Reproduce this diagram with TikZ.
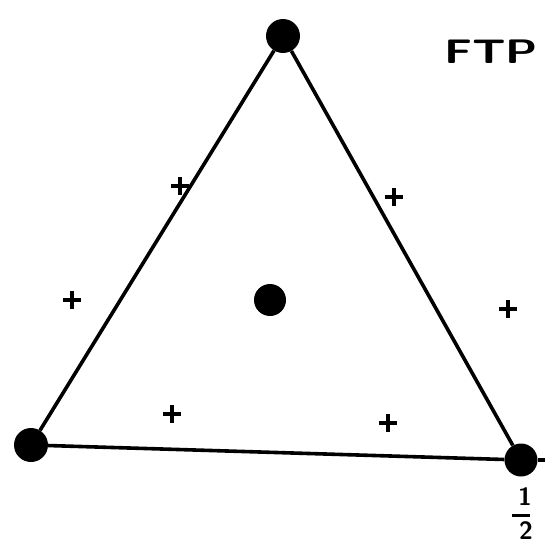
\documentclass[tikz,border=0pt]{standalone}
\usepackage{tikz}
\usetikzlibrary{calc}

\begin{document}
\begin{tikzpicture}[x=1pt, y=-1pt,
  blob/.style={circle, fill=black, inner sep=0pt, minimum size=34pt},
  side/.style={line width=3.6pt},
  plus/.style={line width=3.4pt},
  digit/.style={font=\sffamily\bfseries\fontsize{25}{25}\selectfont, inner sep=0pt},
]
  \useasboundingbox (0,0) rectangle (555,554);
  \node[blob] (top) at (283,36) {};
  \node[blob] (left) at (31,445) {};
  \node[blob, minimum size=33pt] (right) at (521,460) {};
  \node[blob, minimum size=32pt] (mid) at (270,300) {};
  \coordinate (tail) at (545,460);
  \draw[side] (top) -- (left);
  \draw[side] (top) -- (right);
  \draw[side] (left) -- (right);
  \draw[side] (right) -- (tail);
  \foreach \x/\y/\n in {180/186/a, 394/197/b, 72/300/c, 508/309/d, 172/414/e, 388/423/f}{
    \coordinate (p\n) at (\x,\y);
    \draw[plus] ($(p\n)+(-9,0)$) -- ($(p\n)+(9,0)$)
                ($(p\n)+(0,-9)$) -- ($(p\n)+(0,9)$);
  }
  \node[font=\sffamily\bfseries\fontsize{34}{34}\selectfont, xscale=1.35] (ftp) at (491,52) {FTP};
  % one half
  \node[digit] (one) at (525,497) {1};
  \node[digit] (two) at (526,531) {2};
  \coordinate (barl) at (512,515);
  \coordinate (barr) at (530,515);
  \draw[line width=3pt] (barl) -- (barr);
\end{tikzpicture}
\end{document}
